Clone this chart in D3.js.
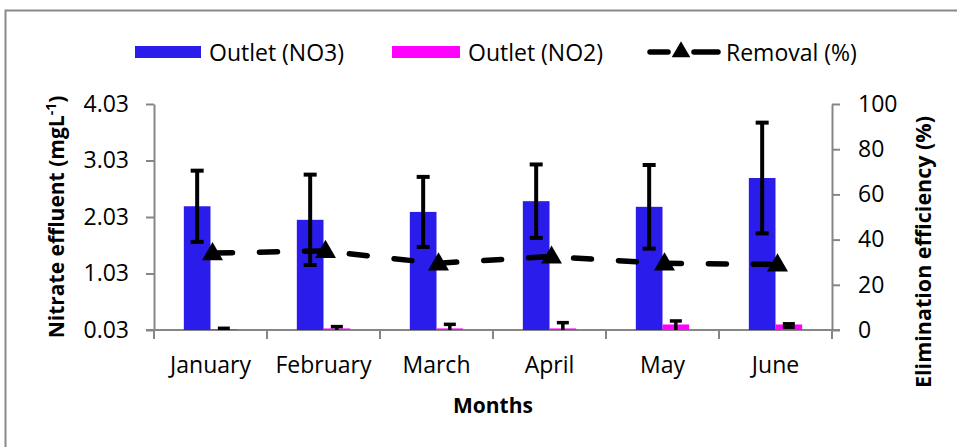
<!DOCTYPE html>
<html>
<head>
<meta charset="utf-8">
<script src="https://cdn.jsdelivr.net/npm/d3@7"></script>
<style>
  html, body { margin: 0; padding: 0; background: #fff; }
  svg { display: block; font-family: "Open Sans", sans-serif; }
</style>
</head>
<body>
<svg id="chart"></svg>
<script>
// Data
const months = ['January', 'February', 'March', 'April', 'May', 'June'];
const no3Values = [2.22, 1.98, 2.12, 2.31, 2.21, 2.72];
const no3Errors = [0.63, 0.80, 0.62, 0.65, 0.74, 0.98];
const no2Values = [0.03, 0.04, 0.04, 0.04, 0.11, 0.11];
const no2Errors = [0.03, 0.05, 0.09, 0.12, 0.08, 0.03];
const removalValues = [34, 35, 29.5, 32.5, 29.5, 29];
const leftTicks = [0.03, 1.03, 2.03, 3.03, 4.03];
const rightTicks = [0, 20, 40, 60, 80, 100];

const width = 957;
const height = 447;
const margin = { top: 104, right: 125, bottom: 117, left: 154 };
const innerWidth = width - margin.left - margin.right;
const innerHeight = height - margin.top - margin.bottom;

const axisColor = '#868686';
const no3Color = '#2a1ceb';
const no2Color = '#ff00ff';
const fontFamily = '"Open Sans", sans-serif';

const svg = d3.select('#chart')
  .attr('width', width)
  .attr('height', height);

// Outer frame (cropped on the right and bottom in the original)
svg.append('path')
  .attr('d', `M5.5,${height}V10.5H${width}`)
  .attr('fill', 'none')
  .attr('stroke', '#898989')
  .attr('stroke-width', 2);

const chart = svg.append('g')
  .attr('transform', `translate(${margin.left}, ${margin.top})`);

// Scales
const xScale = d3.scaleBand()
  .domain(months)
  .range([0, innerWidth])
  .padding(0);

const yScale = d3.scaleLinear()
  .domain([0.03, 4.03])
  .range([innerHeight, 0]);

const yRight = d3.scaleLinear()
  .domain([0, 100])
  .range([innerHeight, 0]);

const barWidth = xScale.bandwidth() * 0.236;
const center = d => xScale(d) + xScale.bandwidth() / 2;

function styleAxis(g) {
  g.attr('font-size', 23).attr('font-family', fontFamily);
  g.selectAll('.domain, .tick line')
    .attr('stroke', axisColor)
    .attr('stroke-width', 2);
  g.selectAll('text').attr('fill', '#000');
}

// Left axis
chart.append('g')
  .call(d3.axisLeft(yScale)
    .tickValues(leftTicks)
    .tickFormat(d3.format('.2f'))
    .tickSize(8)
    .tickSizeOuter(0)
    .tickPadding(17))
  .call(styleAxis);

// Right axis
chart.append('g')
  .attr('transform', `translate(${innerWidth}, 0)`)
  .call(d3.axisRight(yRight)
    .tickValues(rightTicks)
    .tickSize(8)
    .tickSizeOuter(0)
    .tickPadding(18))
  .call(styleAxis);

// Bottom axis: labels at band centres, ticks on band edges
const xAxis = chart.append('g')
  .attr('transform', `translate(0, ${innerHeight})`)
  .call(d3.axisBottom(xScale)
    .tickSize(0)
    .tickPadding(27))
  .call(styleAxis);
xAxis.select('.domain').remove();

chart.append('line')
  .attr('x1', -8)
  .attr('x2', innerWidth + 8)
  .attr('y1', innerHeight)
  .attr('y2', innerHeight)
  .attr('stroke', axisColor)
  .attr('stroke-width', 2);

const edges = months.map(d => xScale(d)).concat([innerWidth]);
chart.append('g')
  .selectAll('line')
  .data(edges)
  .enter()
  .append('line')
  .attr('x1', d => d)
  .attr('x2', d => d)
  .attr('y1', innerHeight)
  .attr('y2', innerHeight + 9)
  .attr('stroke', axisColor)
  .attr('stroke-width', 2);

// Bars
const bars = chart.append('g');
bars.selectAll('.no3')
  .data(months)
  .enter()
  .append('rect')
  .attr('class', 'no3')
  .attr('x', d => center(d) - barWidth)
  .attr('y', (d, i) => yScale(no3Values[i]))
  .attr('width', barWidth)
  .attr('height', (d, i) => innerHeight - yScale(no3Values[i]))
  .attr('fill', no3Color);

bars.selectAll('.no2')
  .data(months)
  .enter()
  .append('rect')
  .attr('class', 'no2')
  .attr('x', d => center(d))
  .attr('y', (d, i) => yScale(no2Values[i]) - 1)
  .attr('width', barWidth)
  .attr('height', (d, i) => innerHeight - yScale(no2Values[i]) + 1)
  .attr('fill', no2Color);

// Error bars, clipped to the plot area like the original
const clamp = v => Math.max(0.03, v);
function drawErrors(values, errors, offset, capW, lw) {
  const g = chart.append('g').attr('stroke', '#000').attr('stroke-width', lw);
  months.forEach((m, i) => {
    const cx = center(m) + offset;
    const top = yScale(values[i] + errors[i]);
    const bottom = yScale(clamp(values[i] - errors[i]));
    g.append('line')
      .attr('x1', cx).attr('x2', cx)
      .attr('y1', top).attr('y2', bottom);
    g.append('line')
      .attr('x1', cx - capW / 2).attr('x2', cx + capW / 2)
      .attr('y1', top).attr('y2', top);
    if (values[i] - errors[i] > 0.03) {
      g.append('line')
        .attr('x1', cx - capW / 2).attr('x2', cx + capW / 2)
        .attr('y1', bottom).attr('y2', bottom);
    }
  });
}
drawErrors(no3Values, no3Errors, -barWidth / 2, 13, 4);
drawErrors(no2Values, no2Errors, barWidth / 2, 12, 3.5);

// Removal line on the right axis
const line = d3.line()
  .x(d => center(d.month))
  .y(d => yRight(d.value));
const removalData = months.map((m, i) => ({ month: m, value: removalValues[i] }));

chart.append('path')
  .datum(removalData)
  .attr('d', line)
  .attr('fill', 'none')
  .attr('stroke', '#000')
  .attr('stroke-width', 5.5)
  .attr('stroke-linecap', 'round')
  .attr('stroke-dasharray', '18,27')
  .attr('stroke-dashoffset', -4);

chart.append('g')
  .selectAll('path')
  .data(removalData)
  .enter()
  .append('path')
  .attr('transform', d => `translate(${center(d.month) + 2}, ${yRight(d.value) + 1})`)
  .attr('d', d3.symbol().type(d3.symbolTriangle).size(190))
  .attr('fill', '#000');

// Axis titles
const leftTitle = svg.append('text')
  .attr('transform', `translate(64, ${margin.top + innerHeight / 2}) rotate(-90)`)
  .attr('text-anchor', 'middle')
  .style('font-size', '21px')
  .style('font-weight', 'bold')
  .attr('fill', '#000');
leftTitle.append('tspan').text('Nitrate effluent (mgL');
leftTitle.append('tspan')
  .attr('dy', -8)
  .style('font-size', '14px')
  .text('-1');
leftTitle.append('tspan')
  .attr('dy', 8)
  .text(')');

svg.append('text')
  .attr('transform', `translate(931, 252) rotate(-90)`)
  .attr('text-anchor', 'middle')
  .style('font-size', '21.5px')
  .style('font-weight', 'bold')
  .attr('fill', '#000')
  .text('Elimination efficiency (%)');

svg.append('text')
  .attr('x', 493)
  .attr('y', 413)
  .attr('text-anchor', 'middle')
  .style('font-size', '21px')
  .style('font-weight', 'bold')
  .attr('fill', '#000')
  .text('Months');

// Legend
const legend = svg.append('g').style('font-size', '23px');
legend.append('rect')
  .attr('x', 135).attr('y', 46).attr('width', 66).attr('height', 12)
  .attr('fill', no3Color);
legend.append('text')
  .attr('x', 209).attr('y', 61)
  .text('Outlet (NO3)');

legend.append('rect')
  .attr('x', 392).attr('y', 46).attr('width', 68).attr('height', 12)
  .attr('fill', no2Color);
legend.append('text')
  .attr('x', 468).attr('y', 61)
  .text('Outlet (NO2)');

[[650, 668], [694, 718]].forEach(([a, b]) => {
  legend.append('line')
    .attr('x1', a).attr('x2', b)
    .attr('y1', 52).attr('y2', 52)
    .attr('stroke', '#000')
    .attr('stroke-width', 5.5)
    .attr('stroke-linecap', 'round');
});
legend.append('path')
  .attr('transform', 'translate(681, 52)')
  .attr('d', d3.symbol().type(d3.symbolTriangle).size(150))
  .attr('fill', '#000');
legend.append('text')
  .attr('x', 726).attr('y', 61)
  .text('Removal (%)');
</script>
</body>
</html>
